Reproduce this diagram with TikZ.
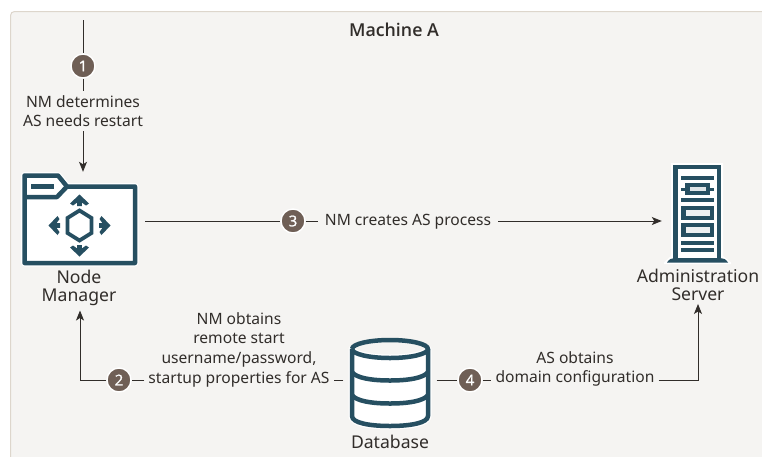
\documentclass[tikz,border=0pt]{standalone}
\usepackage{fontspec}
\setmainfont{Noto Sans}
\newfontfamily\headf{Open Sans Semibold}
\newfontfamily\digitf{Open Sans}[FakeBold=1.2]
\usetikzlibrary{arrows.meta,calc}
\definecolor{panel}{HTML}{F5F4F2}
\definecolor{rimc}{HTML}{DDD6CC}
\definecolor{teal}{HTML}{264F61}
\definecolor{badgec}{HTML}{6F5F56}
\definecolor{inkc}{HTML}{312D2A}
\tikzset{
  x=1pt,y=-1pt,
  lab/.style={font=\fontsize{15.6}{19.7}\selectfont,text=inkc,align=center,inner sep=0pt},
  captxt/.style={font=\fontsize{17.6}{18}\selectfont,text=inkc,align=center,inner sep=0pt},
  boxlab/.style={lab,inner xsep=4pt,inner ysep=4pt},
  badge/.style={circle,fill=badgec,draw=white,line width=1.4pt,minimum size=24pt,inner sep=0pt,text=white,font=\fontsize{15}{15}\selectfont\digitf},
  conn/.style={draw=inkc,line width=0.9pt},
  tip/.style={conn,-{Stealth[length=10pt,width=8pt,inset=2.5pt]}},
  icon/.style={draw=teal,line width=4.5pt,line join=round},
  halo/.style={draw=white,line width=7pt,fill=white,line join=round},
  slot/.style={inner sep=0pt,draw=none}
}
\begin{document}
\begin{tikzpicture}
\useasboundingbox (0,0) rectangle (762,456);
\fill[white] (0,0) rectangle (762,456);
\path[fill=panel,draw=rimc,line width=1pt,rounded corners=4pt] (10.5,11.5) -- (775,11.5) -- (775,470) -- (10.5,470) -- cycle;
\node[font=\fontsize{17.8}{18}\selectfont\headf,text=inkc,inner sep=0pt] (title) at (394,30) {Machine A};

% ---- Node Manager icon
\node[slot,minimum width=131pt,minimum height=98pt] (nm) at (79.5,221) {};
\path[halo] (24.5,175.5) -- (58,175.5) -- (67,186.5) -- (135,186.5) -- (135,263) -- (24.5,263) -- cycle;
\path[icon] (24.5,175.5) -- (58,175.5) -- (67,186.5) -- (135,186.5) -- (135,263) -- (24.5,263) -- cycle;
\path[icon] (24.5,197) -- (57,197) -- (67,186.5);
\fill[teal] (31,184) rectangle (54,188.5);
\path[draw=teal,line width=3.8pt,line join=miter] (79.5,210.5) -- (91.5,218) -- (91.5,233) -- (79.5,240.5) -- (67.5,233) -- (67.5,218) -- cycle;
\foreach \a in {0,90,180,270}{
  \begin{scope}[rotate around={\a:(79.5,225.5)}]
    \fill[teal] (79.5,194.5) -- (89,203.5) -- (86,205.5) -- (81.8,202.5) -- (81.8,206) -- (77.2,206) -- (77.2,202.5) -- (73,205.5) -- (70,203.5) -- cycle;
  \end{scope}
}

% ---- Administration Server icon
\node[slot,minimum width=71pt,minimum height=100pt] (as) at (697.5,214) {};
\fill[white] (664,262.5) -- (671,256) -- (671,163) -- (723,163) -- (723,256) -- (731,262.5) -- (731,264) -- (664,264) -- cycle;
\path[icon,line join=miter] (675.5,260) -- (675.5,167) -- (719,167) -- (719,260);
\fill[teal] (667,262.5) .. controls (669,259) and (672,258) .. (675,258) -- (720,258) .. controls (723,258) and (726,259) .. (728,262.5) -- cycle;
\fill[teal] (681,176) rectangle (714,180);
\fill[teal] (681,187.5) rectangle (714,190.5);
\fill[teal] (685,183) rectangle (710,195);
\fill[white!85!teal] (689.5,187) rectangle (706,191);
\fill[teal] (681,198) rectangle (714,202);
\fill[teal] (681,206) rectangle (714,220);
\fill[white!92!teal] (685.5,210) rectangle (710,216);
\fill[teal] (681,223) rectangle (714,237);
\fill[white!92!teal] (685.5,227) rectangle (710,233);
\fill[teal] (681,241) rectangle (714,244.5);
\fill[teal] (681,247.5) rectangle (714,251.5);

% ---- Database icon
\node[slot,minimum width=93pt,minimum height=92pt] (db) at (390,383) {};
\path[halo] (352,349) -- (352,416) .. controls (352,423) and (370,426) .. (390,426) .. controls (410,426) and (428,423) .. (428,416) -- (428,349) arc[x radius=38,y radius=9,start angle=0,end angle=180] -- cycle;
\path[icon] (352,349) arc[x radius=38,y radius=9,start angle=180,end angle=-180];
\path[icon] (352,349) -- (352,416) .. controls (352,423) and (370,426) .. (390,426) .. controls (410,426) and (428,423) .. (428,416) -- (428,349);
\path[icon] (352,372) .. controls (356,378) and (372,380.5) .. (390,380.5) .. controls (408,380.5) and (424,378) .. (428,372);
\path[icon] (352,395) .. controls (356,401) and (372,403.5) .. (390,403.5) .. controls (408,403.5) and (424,401) .. (428,395);

% ---- Captions
\node[captxt] (nmcap) at (79,287.5) {Node\\Manager};
\node[captxt] (ascap) at (698,285) {Administration\\Server};
\node[captxt] (dbcap) at (390,442) {Database};

% ---- Badges and connector labels
\node[badge] (b1) at (83,66) {1};
\node[badge] (b2) at (119,380) {2};
\node[badge] (b3) at (293,221) {3};
\node[badge] (b4) at (470,380) {4};
\node[boxlab] (t1) at (83,111) {NM determines\\AS needs restart};
\node[boxlab] (t2) at (239,349.5) {NM obtains\\remote start\\username/password,\\startup properties for AS};
\node[boxlab,inner xsep=7pt] (t3) at (408,221.5) {NM creates AS process};
\node[boxlab] (t4) at (575,369) {AS obtains\\domain configuration};
\coordinate (start) at (83,20);

% ---- Connectors
\draw[conn] (start) -- (b1);
\draw[conn] (b1) -- (b1 |- t1.north);
\draw[tip] (b1 |- t1.south) -- (b1 |- nm.north);
\draw[conn] (nm.east |- b3) -- (b3);
\draw[conn] (b3) -- (t3.west |- b3);
\draw[tip] (t3.east |- b3) -- (as.west |- b3);
\draw[conn] (db.west |- b2) -- (t2.east |- b2);
\draw[conn] (t2.west |- b2) -- (b2);
\draw[tip] (b2) -| ([yshift=-5pt]nmcap.south -| 80,0);
\draw[conn] (db.east |- b4) -- (b4);
\draw[conn] (b4) -- (t4.west |- b4);
\draw[tip] (t4.east |- b4) -| ([yshift=-3pt]ascap.south);
\end{tikzpicture}
\end{document}
